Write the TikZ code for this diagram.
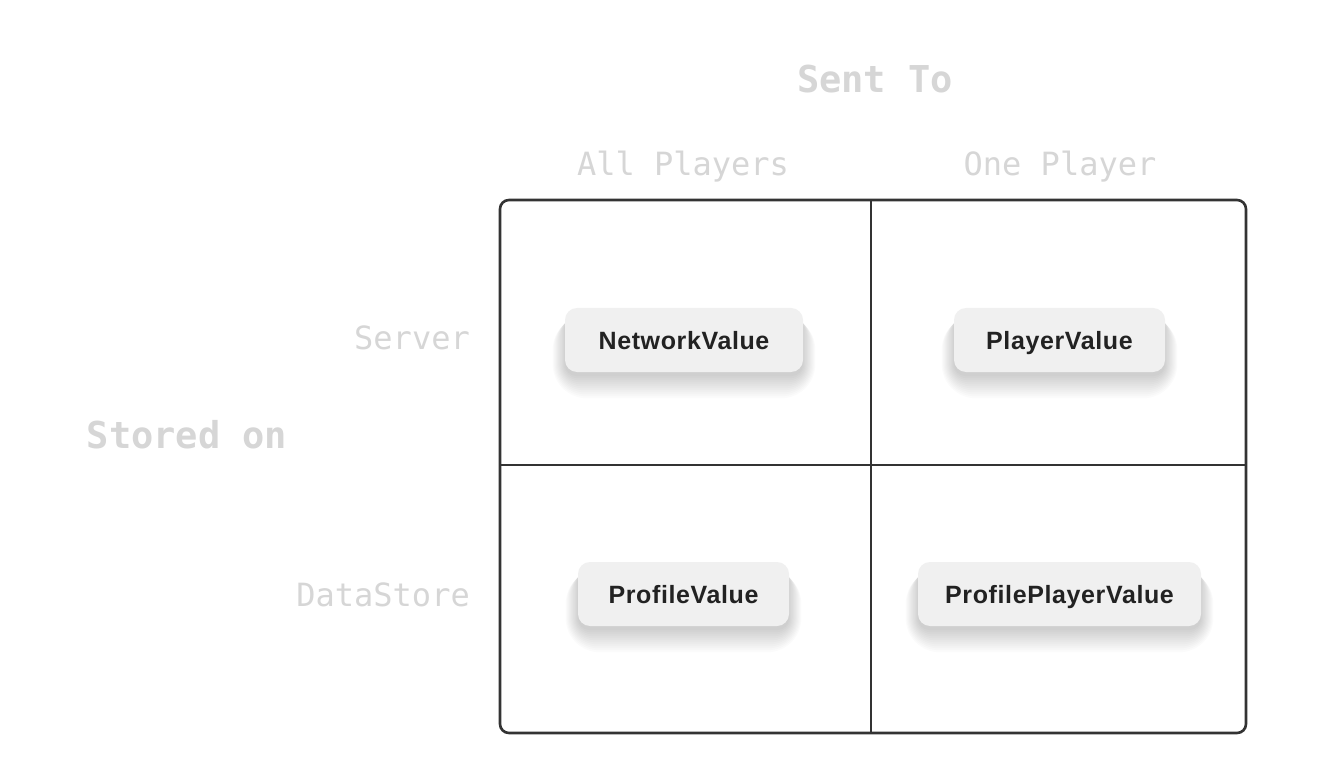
\documentclass[tikz,border=0pt]{standalone}
\usepackage{fontspec}
\setmainfont{Liberation Sans}
\newfontfamily\monofont{DejaVu Sans Mono}
\definecolor{labelgray}{HTML}{D6D6D6}
\definecolor{linegray}{HTML}{333333}
\definecolor{boxfill}{HTML}{F0F0F0}
\definecolor{boxtext}{HTML}{222222}
\pgfdeclarelayer{bottom}
\pgfdeclarelayer{shadowlayer}
\pgfsetlayers{bottom,shadowlayer,main}
\newcommand\softshadow[1]{%
  \begin{pgfonlayer}{shadowlayer}
  \foreach \e in {0,2,...,22}{%
    \pgfmathsetmacro\rr{12+\e}%
    \pgfmathsetmacro\sx{0.55*\e}%
    \fill[black,opacity=0.016,rounded corners=\rr pt]
      ([xshift=-\sx pt,yshift=-4pt-\e pt]#1.south west) rectangle
      ([xshift=\sx pt,yshift=-8pt]#1.north east);
  }
  \end{pgfonlayer}}
\begin{document}
\begin{tikzpicture}[x=1pt,y=-1pt,
  hdr/.style={font=\monofont\bfseries\fontsize{37}{40}\selectfont, text=labelgray, inner sep=0pt},
  lbl/.style={font=\monofont\fontsize{32}{36}\selectfont, text=labelgray, inner sep=0pt},
  valbox/.style={fill=boxfill, rounded corners=12pt, minimum height=64pt, inner sep=0pt,
    text height=20pt, text depth=2pt,
    font=\bfseries\fontsize{25}{28}\selectfont\addfontfeatures{LetterSpace=2.5}, text=boxtext},
  gridline/.style={draw=linegray, line width=2.6pt}]
\begin{pgfonlayer}{bottom}
\fill[white] (0,0) rectangle (1330,783);
\end{pgfonlayer}
\useasboundingbox (0,0) rectangle (1330,783);

% headers
\node[hdr] (sentto) at (875,79) {Sent To};
\node[hdr] (storedon) at (187,435) {Stored on};
\node[lbl] (allp) at (683,167) {All Players};
\node[lbl] (onep) at (1060,167) {One Player};
\node[lbl, anchor=east] (server) at (470,338) {Server};
\node[lbl, anchor=east] (datastore) at (470,595) {DataStore};

% table
\draw[gridline, rounded corners=9pt] (500,200) rectangle (1246,733);
\coordinate (vt) at (871,200);
\coordinate (vb) at (871,733);
\coordinate (hl) at (500,465);
\coordinate (hr) at (1246,465);
\draw[gridline] (vt) -- (vb);
\draw[gridline] (hl) -- (hr);

% values
\node[valbox, minimum width=238pt] (nv) at (684,340) {NetworkValue};
\node[valbox, minimum width=211pt] (pv) at (1059.5,340) {PlayerValue};
\node[valbox, minimum width=211pt] (prv) at (683.5,594) {ProfileValue};
\node[valbox, minimum width=283pt] (ppv) at (1059.5,594) {ProfilePlayerValue};
\softshadow{nv}
\softshadow{pv}
\softshadow{prv}
\softshadow{ppv}
\end{tikzpicture}
\end{document}
